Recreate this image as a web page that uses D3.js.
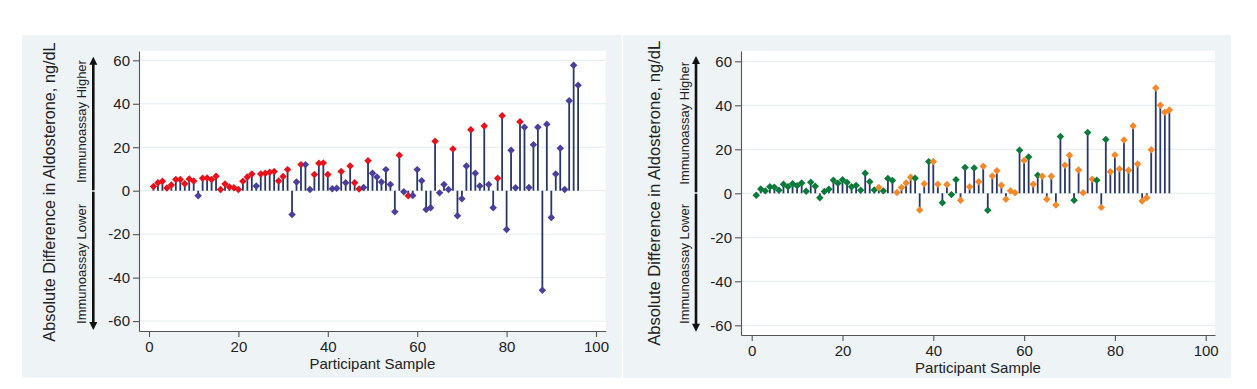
<!DOCTYPE html>
<html><head><meta charset="utf-8">
<script src="https://cdn.jsdelivr.net/npm/d3@7"></script>
<style>
body{margin:0;background:#fff}
text{font-family:"Liberation Sans",Arial,Helvetica,sans-serif;fill:#222}
</style>
</head><body><svg id="c" width="1257" height="389"></svg>
<script>
// ---------- DATA ----------
const leftValues = [1.9,3.7,4.3,1.2,2.6,5.1,5.2,3.2,5.4,4.5,-2.3,5.7,5.8,5.2,6.6,0.6,3.1,1.7,1.4,0.5,
  4.3,6.3,7.7,2.2,7.7,8.0,8.5,8.8,4.5,6.5,9.7,-10.9,4.0,12.0,12.0,0.5,7.5,12.6,12.8,7.5,
  0.9,1.1,8.8,3.7,11.4,3.7,0.8,1.5,13.8,8.0,6.3,4.0,9.7,2.9,-9.7,16.3,-0.5,-2.3,-2.2,9.7,
  4.6,-8.6,-7.8,22.8,-1.0,2.9,0.5,19.2,-11.5,-3.7,11.4,28.0,8.0,2.2,29.8,2.9,-7.8,5.7,34.5,-17.8,
  18.6,1.4,31.7,29.2,1.5,21.2,29.2,-45.8,30.6,-12.3,7.7,19.5,0.5,41.4,57.7,48.5];
const leftGroups = ("RRRRRRRRRRBRRRRRRRRRRRRBRRRRRRRBB" + // 1-33
  "RBBRRRRBBRBRRRBRBBBBBBRBRBBBBBRBBB" + // 34-67
  "RBBBRBBRBBRRBBBRBBBBBBBBBBBBB").split(""); // 68-96
const rightValues = [-0.9,2.0,1.1,3.0,2.7,1.4,4.1,3.0,4.3,3.4,4.7,0.9,5.0,3.2,-2.0,0.8,1.8,5.9,4.6,6.2,
  4.9,3.0,3.6,1.4,9.1,5.2,1.5,2.6,1.1,6.7,5.8,0.4,2.6,4.7,7.3,6.8,-7.6,4.3,14.4,14.4,
  4.1,-4.3,4.0,-0.6,6.2,-3.2,11.7,3.0,11.5,5.2,12.3,-7.7,7.9,10.2,3.7,-2.7,1.2,0.3,19.6,14.9,
  16.5,4.1,8.2,7.7,-2.7,7.7,-5.3,25.8,12.7,17.3,-3.2,10.6,0.2,27.6,6.4,5.9,-6.4,24.5,9.8,17.4,
  11.1,24.2,10.5,30.6,13.3,-3.5,-2.0,19.8,47.9,40.0,36.8,37.9];
const rightGroups = ("GGGGGGGGGGGGGGGGGGGGGGGGGGGOGGG" + // 1-31
  "OOOOGOOGOOGOGGOGOGOOGOOOOOOGOGOGOOOOGOOGOOGOGOGOOOOOOOOOOOOOO").split(""); // 32-92
const yTicks = [-60,-40,-20,0,20,40,60];
const xTicks = [0,20,40,60,80,100];
const yTitle = "Absolute Difference in Aldosterone, ng/dL";
const xTitle = "Participant Sample";
const upLabel = "Immunoassay Higher";
const downLabel = "Immunoassay Lower";

const colorMap = {R:"#e8121c", B:"#4a3f9b", G:"#0b7a3a", O:"#f5892a"};

const svg = d3.select("#c");

function drawPanel(cfg){
  const g = svg.append("g");
  g.append("rect").attr("x",cfg.bg[0]).attr("y",cfg.bg[1]).attr("width",cfg.bg[2]).attr("height",cfg.bg[3]).attr("fill","#eef3f6");
  const [px0,px1,py0,py1] = cfg.plot;
  g.append("rect").attr("x",px0).attr("y",py0).attr("width",px1-px0).attr("height",py1-py0).attr("fill","#fff");
  const x = d3.scaleLinear().domain(cfg.xd).range([px0,px1]);
  const y = d3.scaleLinear().domain(cfg.yd).range([py1,py0]);
  // gridlines
  g.append("g").selectAll("line").data(yTicks).join("line")
    .attr("x1",px0).attr("x2",px1).attr("y1",d=>y(d)).attr("y2",d=>y(d))
    .attr("stroke","#e4edf1").attr("stroke-width",1);
  // axes
  const fmt = d => String(d);
  const ya = g.append("g").attr("transform",`translate(${px0},0)`)
    .call(d3.axisLeft(y).tickValues(yTicks).tickFormat(fmt).tickSize(6).tickSizeOuter(0).tickPadding(3));
  const xa = g.append("g").attr("transform",`translate(0,${py1})`)
    .call(d3.axisBottom(x).tickValues(xTicks).tickFormat(fmt).tickSize(6).tickSizeOuter(0).tickPadding(4));
  [ya,xa].forEach(a=>{
    a.selectAll("path,line").attr("stroke","#555").attr("stroke-width",1.1);
    a.selectAll("text").attr("font-size",15).attr("fill","#222").style("font-family",'"Liberation Sans",Arial,sans-serif');
  });
  // stems
  const vals = cfg.values.map((v,i)=>({i:i+1,v,g:cfg.groups[i]}));
  g.append("g").selectAll("line").data(vals).join("line")
    .attr("x1",d=>x(d.i)).attr("x2",d=>x(d.i)).attr("y1",y(0)).attr("y2",d=>y(d.v))
    .attr("stroke","#28376a").attr("stroke-width",1.8);
  // markers
  const sym = d3.symbol().type(d3.symbolSquare).size(28);
  g.append("g").selectAll("path").data(vals).join("path")
    .attr("d",sym)
    .attr("transform",d=>`translate(${x(d.i)},${y(d.v)}) rotate(45)`)
    .attr("fill",d=>colorMap[d.g]);
  // titles
  g.append("text").attr("x",(px0+px1)/2).attr("y",cfg.xTitleY).attr("text-anchor","middle")
    .attr("font-size",15).text(xTitle);
  g.append("text").attr("transform",`translate(${cfg.yTitle[0]},${cfg.yTitle[1]}) rotate(-90)`)
    .attr("text-anchor","middle").attr("font-size",cfg.yTitle[2]).text(yTitle);
  g.append("text").attr("transform",`translate(${cfg.inner[0]},${cfg.inner[1]}) rotate(-90)`)
    .attr("text-anchor","middle").attr("font-size",13).text(upLabel);
  g.append("text").attr("transform",`translate(${cfg.inner[0]},${cfg.inner[2]}) rotate(-90)`)
    .attr("text-anchor","middle").attr("font-size",13).text(downLabel);
  // arrows
  const ax = cfg.arrow[0], top = cfg.arrow[1], mid = cfg.arrow[2], bot = cfg.arrow[3];
  g.append("line").attr("x1",ax).attr("x2",ax).attr("y1",top+6).attr("y2",mid-0.7).attr("stroke","#111").attr("stroke-width",2.6);
  g.append("line").attr("x1",ax).attr("x2",ax).attr("y1",mid+0.7).attr("y2",bot-6).attr("stroke","#111").attr("stroke-width",2.6);
  g.append("path").attr("d",`M${ax},${top} L${ax+4},${top+8} L${ax-4},${top+8}Z`).attr("fill","#111");
  g.append("path").attr("d",`M${ax},${bot} L${ax+4},${bot-8} L${ax-4},${bot-8}Z`).attr("fill","#111");
}

drawPanel({
  bg:[22,35,599.7,342.7],
  plot:[139,605.7,51,331],
  xd:[(139-149)/4.47,(605.7-149)/4.47],
  yd:[-60-(331-321.1)/2.1733, 60+(60.3-51)/2.1733],
  values:leftValues, groups:leftGroups,
  xTitleY:368.5,
  yTitle:[54.5,192,16.3],
  inner:[86,121.5,264],
  arrow:[93.3,56.7,191,330]
});
drawPanel({
  bg:[623,35,608,343],
  plot:[741,1215,51,335],
  xd:[(741-751.7)/4.54,(1215-751.7)/4.54],
  yd:[-60-(335-325.3)/2.2, 60+(61.3-51)/2.2],
  values:rightValues, groups:rightGroups,
  xTitleY:372.5,
  yTitle:[659.5,193.3,16.6],
  inner:[688.5,123.3,264],
  arrow:[696,56,193,331.7]
});
</script></body></html>
